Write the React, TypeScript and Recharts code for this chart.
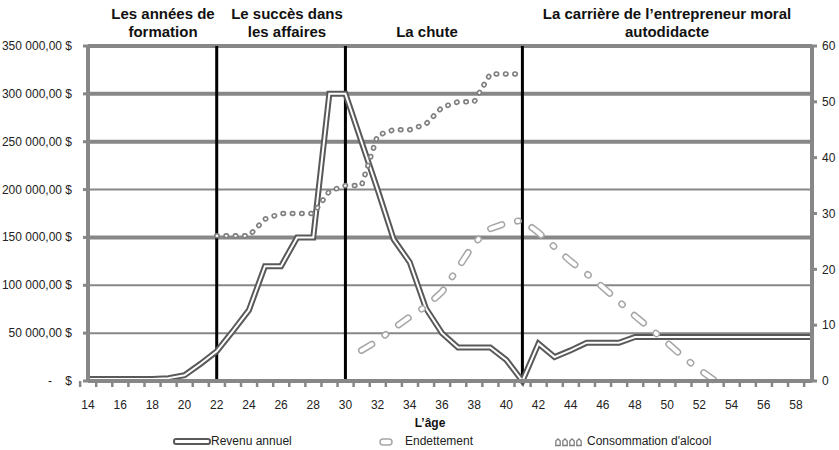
import React from 'react'
import { LineChart, Line, XAxis, YAxis, CartesianGrid, ReferenceLine } from 'recharts'

// catégories : l'âge
const ages = [14, 15, 16, 17, 18, 19, 20, 21, 22, 23, 24, 25, 26, 27, 28, 29, 30, 31, 32, 33, 34, 35, 36,
  37, 38, 39, 40, 41, 42, 43, 44, 45, 46, 47, 48, 49, 50, 51, 52, 53, 54, 55, 56, 57, 58, 59]

// Revenu annuel ($, axe gauche)
const revenu = [2000, 2000, 2000, 2000, 2000, 3000, 6000, 18000, 31000, 52000, 74000, 120000, 120000, 150000,
  150000, 300000, 300000, 250000, 200000, 148000, 124000, 76000, 50000, 35000, 35000, 35000, 22000, 0,
  39000, 25000, 32000, 40000, 40000, 40000, 46000, 46000, 46000, 46000, 46000, 46000, 46000, 46000, 46000,
  46000, 46000, 46000]

// Endettement ($, axe gauche)
const dette = [null, null, null, null, null, null, null, null, null, null, null, null, null, null, null, null,
  null, 32000, 42000, 55000, 67000, 78000, 93000, 118000, 144000, 159000, 165000, 168000, 155000, 140000,
  125000, 112000, 98000, 83000, 68000, 54000, 40000, 25000, 12000, 0, null, null, null, null, null, null]

// Consommation d'alcool (axe droit)
const alcool = [null, null, null, null, null, null, null, null, 26, 26, 26, 29, 30, 30, 30, 34, 35, 35, 44,
  45, 45, 46, 49, 50, 50, 55, 55, 55, null, null, null, null, null, null, null, null, null, null, null,
  null, null, null, null, null, null, null]

const leftTicks = [0, 50000, 100000, 150000, 200000, 250000, 300000, 350000]
const rightTicks = [0, 10, 20, 30, 40, 50, 60]
const etapes = [22, 30, 41]

const titres = [
  { lignes: ['Les années de', 'formation'], x: 163 },
  { lignes: ['Le succès dans', 'les affaires'], x: 287 },
  { lignes: ['La chute'], x: 427, bas: true },
  { lignes: ['La carrière de l\u2019entrepreneur moral', 'autodidacte'], x: 667 },
]

const data = ages.map((age, i) => ({ age, revenu: revenu[i], dette: dette[i], alcool: alcool[i] }))

const GRIS = '#878787'
const GRILLE_EPAISSE = [150000, 250000, 300000, 350000]
const BANDE = 724 / ages.length

const fmtDollar = (v: number) => (v === 0 ? '-\u00a0\u00a0\u00a0\u00a0$' : `${v / 1000} 000,00 $`)

function AgeTick({ x, y, payload, index }: any) {
  return (
    <g>
      <line x1={x - BANDE / 2} x2={x - BANDE / 2} y1={y} y2={y + 6} stroke={GRIS} strokeWidth={2.5} />
      {index % 2 === 0 && (
        <text x={x} y={y + 28} textAnchor="middle" fontSize={12} fill="#222">
          {payload.value}
        </text>
      )}
    </g>
  )
}

function DollarTick({ x, y, payload }: any) {
  return (
    <text x={x} y={y} dy={4} textAnchor="end" fontSize={12} fill="#222">
      {fmtDollar(payload.value)}
    </text>
  )
}

function Legende() {
  const txt: React.CSSProperties = { position: 'absolute', top: 434, fontSize: 12, color: '#222', whiteSpace: 'nowrap' }
  return (
    <>
      <svg style={{ position: 'absolute', left: 173, top: 438 }} width={38} height={8}>
        <rect x={1} y={1} width={36} height={5} rx={2} fill="#fff" stroke="#595959" strokeWidth={2} />
      </svg>
      <div style={{ ...txt, left: 211 }}>Revenu annuel</div>
      <svg style={{ position: 'absolute', left: 379, top: 438 }} width={14} height={9}>
        <rect x={1} y={1} width={12} height={6} rx={3} fill="#fff" stroke="#a6a6a6" strokeWidth={1.5} />
      </svg>
      <div style={{ ...txt, left: 405 }}>Endettement</div>
      <svg style={{ position: 'absolute', left: 555, top: 437 }} width={31} height={10}>
        {[3, 10, 17, 24].map(cx => (
          <path key={cx} d={`M${cx - 2.2} 8.5 L${cx - 2.2} 4 L${cx} 1.8 L${cx + 2.2} 4 L${cx + 2.2} 8.5 Z`}
            fill="#fff" stroke="#7f7f7f" strokeWidth={1.3} />
        ))}
      </svg>
      <div style={{ ...txt, left: 587 }}>Consommation d'alcool</div>
    </>
  )
}

export default function App() {
  return (
    <div style={{ position: 'relative', width: 839, height: 450, fontFamily: '"Liberation Sans", Arial, sans-serif' }}>
      <style>{'body{margin:0}'}</style>
      {titres.map(t => (
        <div key={t.x} style={{
          position: 'absolute', left: t.x, top: t.bas ? 23 : 5, transform: 'translateX(-50%)',
          fontWeight: 'bold', fontSize: 15, lineHeight: '18px', textAlign: 'center', whiteSpace: 'nowrap', color: '#111',
        }}>
          {t.lignes.map(l => <div key={l}>{l}</div>)}
        </div>
      ))}
      <LineChart width={839} height={450} data={data} margin={{ top: 46, right: 7, bottom: 39, left: 8 }}>
        <CartesianGrid vertical={false} stroke={GRIS} strokeWidth={2} />
        {GRILLE_EPAISSE.map(v => (
          <ReferenceLine key={v} y={v} stroke={GRIS} strokeWidth={4} />
        ))}
        <XAxis dataKey="age" interval={0} height={30} tickSize={0} tickMargin={0} tickLine={false}
          axisLine={{ stroke: GRIS, strokeWidth: 4 }} tick={<AgeTick />}
          label={{ value: 'L\u2019âge', position: 'bottom', offset: 7, dx: -20, fontSize: 12, fontWeight: 'bold', fill: '#111' }} />
        <YAxis domain={[0, 350000]} ticks={leftTicks} width={80} tickSize={5} tickMargin={11}
          axisLine={{ stroke: GRIS, strokeWidth: 4 }} tickLine={{ stroke: GRIS, strokeWidth: 3 }}
          tick={<DollarTick />} interval={0} />
        <YAxis yAxisId="right" orientation="right" domain={[0, 60]} ticks={rightTicks} width={20} tickSize={5}
          tickMargin={5} axisLine={{ stroke: GRIS, strokeWidth: 4 }} tickLine={{ stroke: GRIS, strokeWidth: 3 }}
          tick={{ fontSize: 12, fill: '#222' }} interval={0} />
        {etapes.map(a => (
          <ReferenceLine key={a} x={a} stroke="#000" strokeWidth={3} />
        ))}
        <Line dataKey="revenu" stroke="#595959" strokeWidth={6} dot={false} activeDot={false} isAnimationActive={false} />
        <Line dataKey="revenu" stroke="#fff" strokeWidth={2} dot={false} activeDot={false} isAnimationActive={false} />
        <Line dataKey="dette" stroke="#a6a6a6" strokeWidth={7} strokeDasharray="12 16 1 16" strokeLinecap="round"
          dot={false} activeDot={false} isAnimationActive={false} />
        <Line dataKey="dette" stroke="#fff" strokeWidth={4} strokeDasharray="12 16 1 16" strokeLinecap="round"
          dot={false} activeDot={false} isAnimationActive={false} />
        <Line yAxisId="right" dataKey="alcool" stroke="#7f7f7f" strokeWidth={5.5} strokeDasharray="0.5 8.8"
          strokeLinecap="round" dot={false} activeDot={false} isAnimationActive={false} />
        <Line yAxisId="right" dataKey="alcool" stroke="#fff" strokeWidth={2.2} strokeDasharray="0.5 8.8"
          strokeLinecap="round" dot={false} activeDot={false} isAnimationActive={false} />
      </LineChart>
      <Legende />
    </div>
  )
}
